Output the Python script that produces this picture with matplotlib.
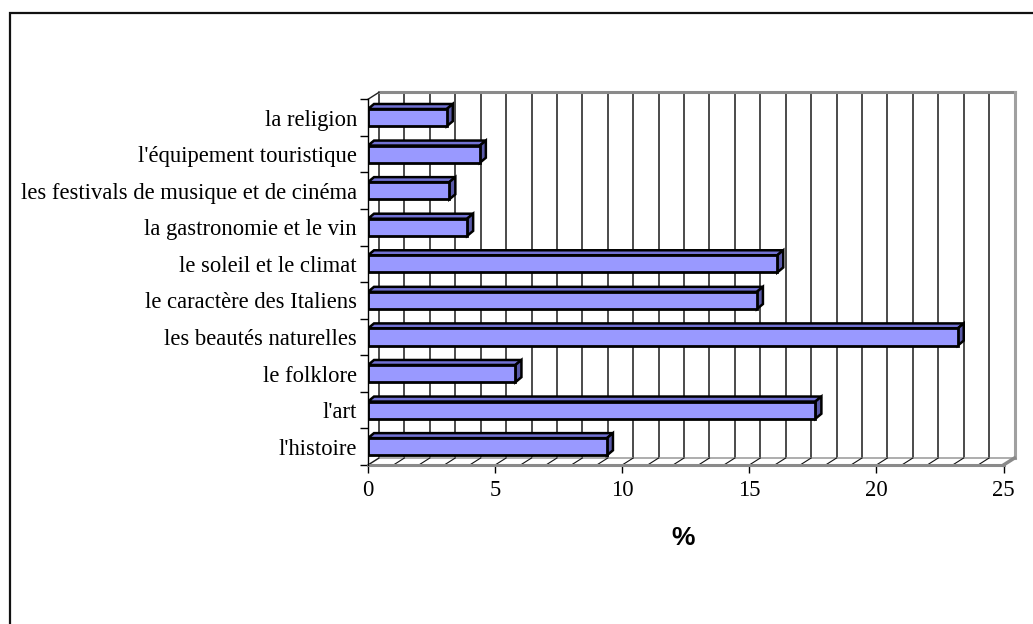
import matplotlib
matplotlib.use("Agg")
import matplotlib.pyplot as plt
from matplotlib.patches import Polygon, Rectangle

categories = ["l'histoire", "l'art", "le folklore", "les beautés naturelles",
              "le caractère des Italiens", "le soleil et le climat",
              "la gastronomie et le vin", "les festivals de musique et de cinéma",
              "l'équipement touristique", "la religion"]
values = [9.4, 17.6, 5.8, 23.2, 15.3, 16.1, 3.9, 3.2, 4.4, 3.1]
xticks = [0, 5, 10, 15, 20, 25]
xlabel = "%"

W, H = 1033, 624
fig = plt.figure(figsize=(W / 100, H / 100), dpi=100)
fig.patch.set_facecolor("white")

# outer chart frame (extends beyond the image on the right/bottom)
fig.add_artist(Rectangle((9.5 / W, -0.1), 1.2, 1.1 - 12.7 / H, transform=fig.transFigure,
                         fill=False, edgecolor="#111111", lw=1.6))

L, R, B, T = 368, 1003.5, 465, 99.3
ax = fig.add_axes([L / W, 1 - B / H, (R - L) / W, (B - T) / H])
ax.set_xlim(0, 25)
ax.set_ylim(-0.5, 9.5)
ax.set_facecolor("none")

sx = 25 / (R - L)
sy = 10 / (B - T)
WDX, WDY = 11 * sx, 7 * sy      # wall depth
BDX, BDY = 6 * sx, 5 * sy       # bar depth

y0, y1 = -0.5, 9.5
# back wall
ax.add_patch(Polygon([(WDX, y0 + WDY), (25 + WDX, y0 + WDY), (25 + WDX, y1 + WDY), (WDX, y1 + WDY)],
                     closed=True, facecolor="white", edgecolor="none", zorder=0, clip_on=False))
for k in range(0, 26):
    ax.plot([k + WDX, k + WDX], [y0 + WDY, y1 + WDY], color="#1a1a1a", lw=1.1, zorder=1,
            clip_on=False, solid_capstyle="butt")
# wall top and right edges (grey)
ax.plot([WDX, 25 + WDX], [y1 + WDY, y1 + WDY], color="#8a8a8a", lw=2.2, zorder=1, clip_on=False)
ax.plot([25 + WDX, 25 + WDX], [y0 + WDY, y1 + WDY], color="#a0a0a0", lw=2.2, zorder=1, clip_on=False)
# left side wall top diagonal
ax.plot([0, WDX], [y1, y1 + WDY], color="#222222", lw=1.0, zorder=1, clip_on=False)
# floor
ax.add_patch(Polygon([(0, y0), (25, y0), (25 + WDX, y0 + WDY), (WDX, y0 + WDY)],
                     closed=True, facecolor="white", edgecolor="#a0a0a0", lw=1.2, zorder=1, clip_on=False))
for k in range(0, 26):
    ax.plot([k, k + WDX], [y0, y0 + WDY], color="#111111", lw=0.8, zorder=1.5, clip_on=False)
ax.plot([25, 25 + WDX], [y0, y0 + WDY], color="#8a8a8a", lw=2.5, zorder=1.6, clip_on=False)

# bars
ypos = list(range(len(categories)))
bars = ax.barh(ypos, values, height=0.47, color="#9999ff", edgecolor="black", lw=2.0, zorder=4)
for rect in bars:
    x0 = rect.get_x()
    x1 = x0 + rect.get_width()
    b0 = rect.get_y()
    b1 = b0 + rect.get_height()
    ax.add_patch(Polygon([(x0, b1), (x1, b1), (x1 + BDX, b1 + BDY), (x0 + BDX, b1 + BDY)], closed=True,
                         facecolor="#7272d4", edgecolor="black", lw=1.8, zorder=3, joinstyle="miter"))
    ax.add_patch(Polygon([(x1, b0), (x1, b1), (x1 + BDX, b1 + BDY), (x1 + BDX, b0 + BDY)], closed=True,
                         facecolor="#5a5aa8", edgecolor="black", lw=1.8, zorder=3, joinstyle="miter"))

# axes styling
for s in ["top", "right"]:
    ax.spines[s].set_visible(False)
ax.spines["left"].set_color("black")
ax.spines["left"].set_linewidth(1.0)
ax.spines["bottom"].set_color("#8a8a8a")
ax.spines["bottom"].set_linewidth(2.2)
ax.spines["left"].set_zorder(5)

ax.set_yticks(ypos)
ax.set_yticklabels(categories, fontfamily="Liberation Serif", fontsize=16.3)
ax.set_yticks([i - 0.5 for i in range(len(categories) + 1)], minor=True)
ax.tick_params(axis="y", which="major", length=0, pad=8)
ax.tick_params(axis="y", which="minor", length=5.5, width=1.0, color="black", direction="out")

ax.set_xticks(xticks)
ax.set_xticklabels([str(t) for t in xticks], fontfamily="Liberation Serif", fontsize=16.3)
ax.tick_params(axis="x", which="major", length=5.5, width=1.0, color="black", direction="out", pad=5)

fig.text(683 / W, 1 - 538 / H, xlabel, ha="center", va="center",
         fontfamily="Liberation Sans", fontweight="bold", fontsize=19)

fig.savefig("out.png", dpi=100, facecolor="white")
